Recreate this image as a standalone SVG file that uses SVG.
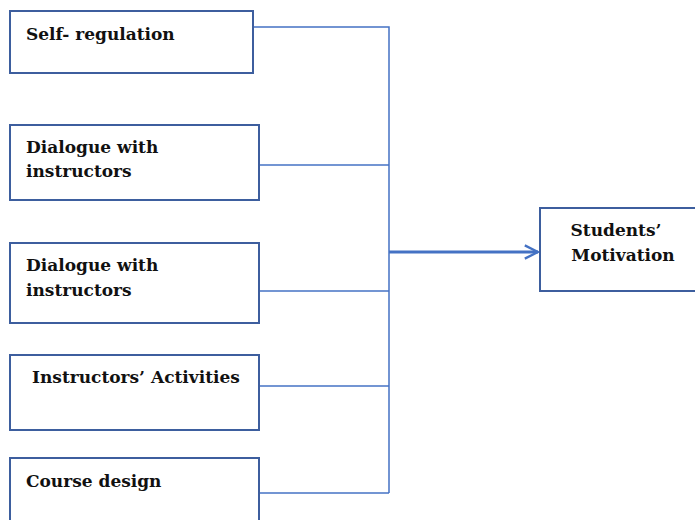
<svg xmlns="http://www.w3.org/2000/svg" width="695" height="520" viewBox="0 0 695 520">
<style>
.box{fill:#fff;stroke:#3d5e9e;stroke-width:2}
.t{font-family:"DejaVu Serif",serif;font-weight:bold;font-size:17px;fill:#111}
.c{fill:none;stroke:#4472c4;stroke-width:1.5}
</style>
<defs>
<marker id="ah" viewBox="0 0 10 10" refX="9" refY="5" markerWidth="5.5" markerHeight="5.5" orient="auto" markerUnits="strokeWidth">
<path d="M1,1 L9,5 L1,9" fill="none" stroke="#4472c4" stroke-width="1.4"/>
</marker>
</defs>
<rect width="695" height="520" fill="#fff"/>
<g id="connectors">
<path class="c" d="M253,27 H389 V493"/>
<path class="c" d="M259,165 H389"/>
<path class="c" d="M259,291 H389"/>
<path class="c" d="M259,386 H389"/>
<path class="c" d="M259,493 H389"/>
<path d="M389,252 H538" fill="none" stroke="#4472c4" stroke-width="3" marker-end="url(#ah)"/>
</g>
<g id="n1"><rect class="box" x="10" y="11" width="243" height="62"/><text class="t" x="26" y="40">Self- regulation</text></g>
<g id="n2"><rect class="box" x="10" y="125" width="249" height="75"/><text class="t" x="26" y="153">Dialogue with</text><text class="t" x="26" y="177">instructors</text></g>
<g id="n3"><rect class="box" x="10" y="243" width="249" height="80"/><text class="t" x="26" y="271">Dialogue with</text><text class="t" x="26" y="296">instructors</text></g>
<g id="n4"><rect class="box" x="10" y="355" width="249" height="75"/><text class="t" x="32" y="383">Instructors’ Activities</text></g>
<g id="n5"><rect class="box" x="10" y="458" width="249" height="70"/><text class="t" x="26" y="487">Course design</text></g>
<g id="n6"><rect class="box" x="540" y="208" width="160" height="83"/><text class="t" x="616" y="236" text-anchor="middle">Students’</text><text class="t" x="623" y="261" text-anchor="middle">Motivation</text></g>
</svg>
